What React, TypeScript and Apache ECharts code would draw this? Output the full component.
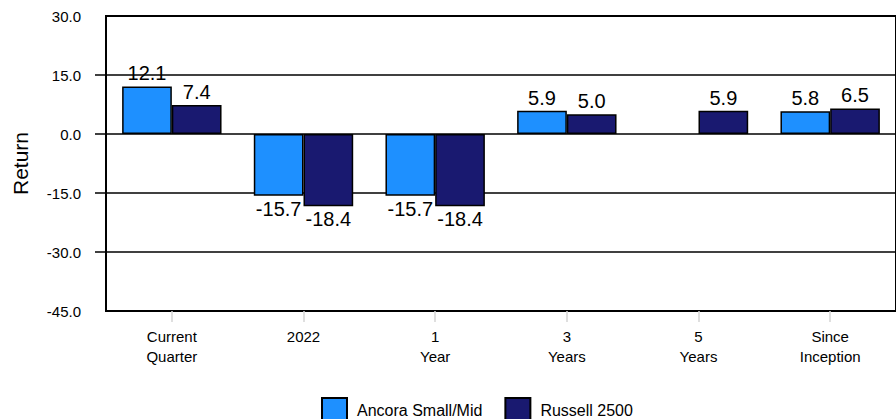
import React, { useEffect, useRef } from "react";
import * as echarts from "echarts";

const categories = ["Current\nQuarter", "2022", "1\nYear", "3\nYears", "5\nYears", "Since\nInception"];
const seriesNames = ["Ancora Small/Mid", "Russell 2500"];
const ancora: (number | null)[] = [12.1, -15.7, -15.7, 5.9, null, 5.8];
const russell: (number | null)[] = [7.4, -18.4, -18.4, 5.0, 5.9, 6.5];
const yMin = -45;
const yMax = 30;
const yStep = 15;

const FONT = "'Liberation Sans', Arial, Helvetica, sans-serif";

function toItems(values: (number | null)[]) {
  return values.map((v) =>
    v === null
      ? null
      : { value: v, label: { position: v < 0 ? "bottom" : "top" } }
  );
}

export default function App() {
  const ref = useRef<HTMLDivElement>(null);
  useEffect(() => {
    if (!ref.current) return;
    const chart = echarts.init(ref.current, undefined, { renderer: "svg" });
    const barLabel = {
      show: true,
      distance: 3,
      fontSize: 20,
      color: "#000",
      fontFamily: FONT,
      formatter: (p: any) => Number(p.value).toFixed(1),
    };
    chart.setOption({
      animation: false,
      backgroundColor: "#fff",
      textStyle: { fontFamily: FONT },
      grid: {
        left: 106,
        right: -5,
        top: 16,
        bottom: 108,
        show: true,
        borderColor: "#000",
        borderWidth: 2,
        backgroundColor: "transparent",
      },
      legend: {
        left: 321,
        top: 397,
        padding: 0,
        icon: "rect",
        itemWidth: 25,
        itemHeight: 25,
        itemGap: 22,
        textStyle: { fontSize: 16, color: "#000", fontFamily: FONT, padding: [0, 0, 0, 5] },
        data: seriesNames,
      },
      xAxis: {
        type: "category",
        data: categories,
        axisLine: { show: true, onZero: false, lineStyle: { color: "#000", width: 2 } },
        axisTick: { show: true, alignWithLabel: true, length: 11, lineStyle: { color: "#d4d4d4", width: 1.5 } },
        axisLabel: { fontSize: 15, color: "#000", lineHeight: 20, margin: 15, interval: 0, fontFamily: FONT },
        splitLine: { show: false },
      },
      yAxis: {
        type: "value",
        min: yMin,
        max: yMax,
        interval: yStep,
        name: "Return",
        nameLocation: "middle",
        nameGap: 75,
        nameTextStyle: { fontSize: 21, color: "#000", fontFamily: FONT },
        axisLine: { show: true, lineStyle: { color: "#000", width: 2 } },
        axisTick: { show: true, length: 11, customValues: [-30, -15, 0, 15], lineStyle: { color: "#000", width: 1.5 } },
        axisLabel: { fontSize: 15, color: "#000", margin: 25, fontFamily: FONT, formatter: (v: number) => v.toFixed(1) },
        splitLine: { show: true, lineStyle: { color: "#000", width: 1.5 } },
      },
      series: [
        {
          name: seriesNames[0],
          type: "bar",
          data: toItems(ancora),
          barGap: "0%",
          barCategoryGap: "24.5%",
          itemStyle: { color: "#1E90FF", borderColor: "#000", borderWidth: 1.5 },
          label: barLabel,
        },
        {
          name: seriesNames[1],
          type: "bar",
          data: toItems(russell),
          barGap: "0%",
          barCategoryGap: "24.5%",
          itemStyle: { color: "#191970", borderColor: "#000", borderWidth: 1.5 },
          label: barLabel,
        },
      ],
    });
    return () => chart.dispose();
  }, []);
  return (
    <div
      ref={ref}
      style={{ position: "fixed", left: 0, top: 0, width: 896, height: 419 }}
    />
  );
}
